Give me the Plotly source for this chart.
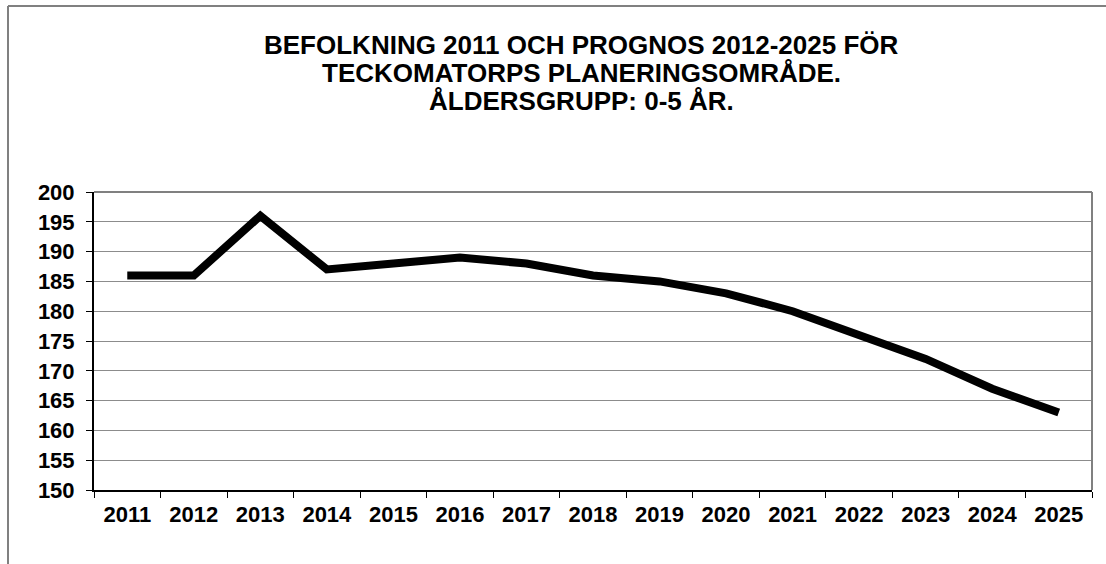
import plotly.graph_objects as go

years = ["2011", "2012", "2013", "2014", "2015", "2016", "2017", "2018",
         "2019", "2020", "2021", "2022", "2023", "2024", "2025"]
population = [186, 186, 196, 187, 188, 189, 188, 186, 185, 183, 180, 176, 172, 167, 163]
y_ticks = list(range(150, 201, 5))
title_lines = ["BEFOLKNING 2011 OCH PROGNOS 2012-2025 FÖR",
               "TECKOMATORPS PLANERINGSOMRÅDE.",
               "ÅLDERSGRUPP: 0-5 ÅR."]

W, H = 1106, 564
L, R, T, B = 94, 1092, 192, 490

def px(x):
    return (x - L) / (R - L)

def py(y):
    return (B - y) / (B - T)

fig = go.Figure()
fig.add_trace(go.Scatter(
    x=years, y=population, mode="lines",
    line=dict(color="black", width=8),
    hoverinfo="x+y", showlegend=False,
))

font = dict(family="Liberation Sans, Arial, sans-serif", color="black")

line_centers = [45.5, 73, 100.5]
annotations = [
    dict(text=t, xref="paper", yref="paper",
         x=px(581), y=py(yc), xanchor="center", yanchor="middle",
         showarrow=False, align="center",
         font=dict(size=26, weight="bold", **font))
    for t, yc in zip(title_lines, line_centers)
]

fig.update_layout(
    width=W, height=H,
    margin=dict(l=L, r=W - R, t=T, b=H - B),
    paper_bgcolor="white", plot_bgcolor="white",
    showlegend=False,
    xaxis=dict(
        type="category", range=[-0.5, len(years) - 0.5],
        tickson="boundaries", ticks="outside", ticklen=6, tickcolor="black",
        showline=True, linecolor="black", linewidth=2,
        showgrid=False, zeroline=False, ticklabelstandoff=4,
        tickfont=dict(size=22, weight="bold", **font),
    ),
    yaxis=dict(
        range=[150, 200], tickvals=y_ticks,
        ticks="outside", ticklen=6, tickcolor="black",
        showline=True, linecolor="black", linewidth=2,
        showgrid=True, gridcolor="#8c8c8c", gridwidth=1, zeroline=False,
        ticklabelstandoff=7,
        tickfont=dict(size=22, weight="bold", **font),
    ),
    annotations=annotations,
    shapes=[
        # outer chart border (top and left visible)
        dict(type="line", xref="paper", yref="paper",
             x0=px(8), y0=py(6), x1=px(1106), y1=py(6),
             line=dict(color="#808080", width=2)),
        dict(type="line", xref="paper", yref="paper",
             x0=px(8), y0=py(6), x1=px(8), y1=py(564),
             line=dict(color="#808080", width=2)),
        # plot area border top & right
        dict(type="line", xref="paper", yref="paper",
             x0=0, y0=1, x1=1, y1=1, line=dict(color="#808080", width=2)),
        dict(type="line", xref="paper", yref="paper",
             x0=1, y0=0, x1=1, y1=1, line=dict(color="#808080", width=2)),
    ],
)

fig.write_html("out.html", config={"displayModeBar": False})

# remove default browser body margin so the figure sits at the page origin
with open("out.html", "r", encoding="utf-8") as f:
    html = f.read()
html = html.replace("<body>", '<body style="margin:0;overflow:hidden">', 1)
with open("out.html", "w", encoding="utf-8") as f:
    f.write(html)
